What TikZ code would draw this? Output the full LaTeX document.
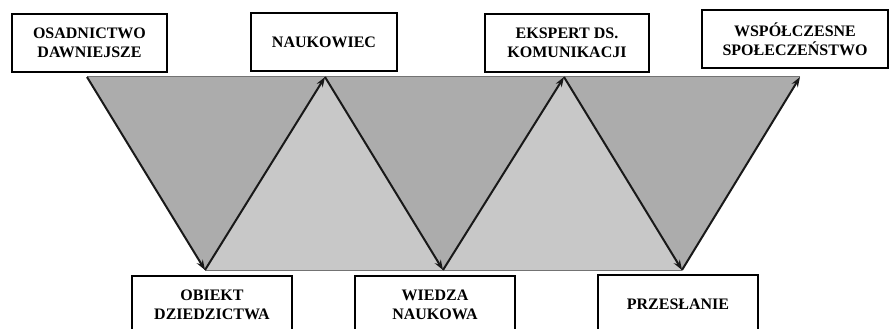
\documentclass[tikz,border=0pt]{standalone}
\usepackage{fontspec}
\setmainfont{Liberation Serif}
\usetikzlibrary{arrows.meta}
\definecolor{darkg}{HTML}{ACACAC}
\definecolor{lightg}{HTML}{C8C8C8}
\begin{document}
\begin{tikzpicture}[x=1pt,y=-1pt,
  box/.style={draw=black, line width=1.3pt, fill=white, align=center, inner sep=0pt,
    font=\bfseries\fontsize{16}{19}\selectfont, minimum height=58pt},
  flow/.style={line width=2pt, draw=black!90, -{Stealth[length=10pt,width=7pt]}},
  band/.style={draw=black!55, line width=1pt}]
\useasboundingbox (0,0) rectangle (889,329);
\clip (0,0) rectangle (889,329);
\fill[white] (0,0) rectangle (889,329);
% zigzag vertices
\coordinate (t0) at (87,77);
\coordinate (b1) at (205,270);
\coordinate (t1) at (325,77);
\coordinate (b2) at (443,270);
\coordinate (t2) at (564,77);
\coordinate (b3) at (682,270);
\coordinate (t3) at (800,77);
% fills
\fill[darkg] (t0) -- (t3) -- (b3) -- (t2) -- (b2) -- (t1) -- (b1) -- cycle;
\fill[lightg] (b1) -- (t1) -- (b2) -- (t2) -- (b3) -- cycle;
\draw[band] (t0) -- (t3);
\draw[band] (b1) -- (b3);
% arrows
\draw[flow] (t0) -- (b1);
\draw[flow] (b1) -- (t1);
\draw[flow] (t1) -- (b2);
\draw[flow] (b2) -- (t2);
\draw[flow] (t2) -- (b3);
\draw[flow] (b3) -- (t3);
% boxes
\node[box, minimum width=155pt] (osad) at (89.5,43) {OSADNICTWO\\DAWNIEJSZE};
\node[box, minimum width=146pt] (nauk) at (324,42) {NAUKOWIEC};
\node[box, minimum width=164pt] (eksp) at (567,43) {EKSPERT DS.\\KOMUNIKACJI};
\node[box, minimum width=186pt] (wspol) at (795,39) {WSPÓŁCZESNE\\SPOŁECZEŃSTWO};
\node[box, minimum width=160pt] (obiekt) at (212,305) {OBIEKT\\DZIEDZICTWA};
\node[box, minimum width=160pt] (wiedza) at (435,305) {WIEDZA\\NAUKOWA};
\node[box, minimum width=160pt] (przes) at (678,304) {PRZESŁANIE};
\end{tikzpicture}
\end{document}
